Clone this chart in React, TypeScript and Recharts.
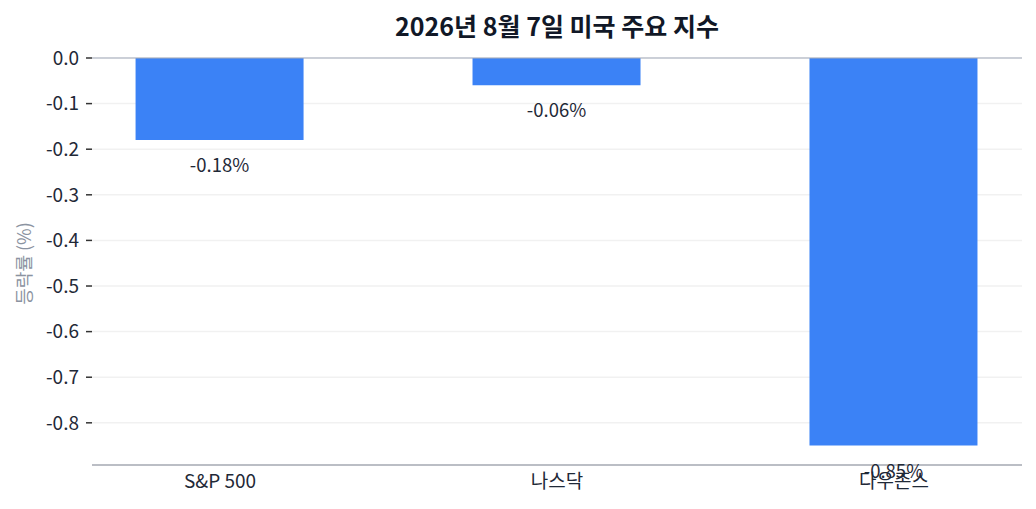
import React from 'react';
import { BarChart, Bar, XAxis, YAxis, CartesianGrid, ReferenceLine, LabelList } from 'recharts';

const indexNames = ['S&P 500', '나스닥', '다우존스'];
const changePct = [-0.18, -0.06, -0.85];
const yTicks = [0, -0.1, -0.2, -0.3, -0.4, -0.5, -0.6, -0.7, -0.8];

const FONT = '"Noto Sans CJK KR", "Noto Sans", sans-serif';

const data = indexNames.map((name, i) => ({ pos: i, name, value: changePct[i] }));

function ValueLabel(props: any) {
  const { x, y, width, height, value } = props;
  const bottom = Math.max(y, y + height);
  return (
    <text
      x={x + width / 2}
      y={bottom + 24}
      textAnchor="middle"
      dominantBaseline="central"
      fontSize={18.5}
      fill="#1f2937"
      fontFamily={FONT}
    >
      {`${value.toFixed(2)}%`}
    </text>
  );
}

function YLabel(props: any) {
  const { viewBox } = props;
  const cx = viewBox.x + 23;
  const cy = viewBox.y + viewBox.height / 2 + 2;
  return (
    <text
      x={cx}
      y={cy}
      transform={`rotate(-90, ${cx}, ${cy})`}
      textAnchor="middle"
      dominantBaseline="central"
      fontSize={18}
      fill="#8b93a1"
      fontFamily={FONT}
    >
      등락률 (%)
    </text>
  );
}

export default function App() {
  return (
    <div style={{ position: 'absolute', left: 0, top: 0, width: 1036, height: 509, background: '#fff', fontFamily: FONT }}>
      <div
        style={{
          position: 'absolute',
          left: 92,
          width: 930,
          top: 8,
          textAlign: 'center',
          fontSize: 25,
          fontWeight: 700,
          color: '#111827',
          lineHeight: '34px',
        }}
      >
        2026년 8월 7일 미국 주요 지수
      </div>
      <BarChart
        width={1036}
        height={509}
        data={data}
        margin={{ top: 58, right: 14, bottom: 0, left: 0 }}
      >
        <CartesianGrid vertical={false} stroke="#f1f1f1" strokeWidth={1.5} />
        <XAxis
          dataKey="pos"
          type="number"
          domain={[-0.38, 2.38]}
          ticks={[0, 1, 2]}
          tickFormatter={(v: number) => indexNames[v] ?? ''}
          allowDataOverflow
          height={44}
          tickLine={false}
          tickSize={0}
          tickMargin={10}
          axisLine={{ stroke: '#a9adb6', strokeWidth: 1.5 }}
          tick={{ fontSize: 19, fill: '#1f2937', fontFamily: FONT }}
        />
        <YAxis
          type="number"
          domain={[-0.8925, 0]}
          ticks={yTicks}
          allowDataOverflow
          width={92}
          axisLine={false}
          tickLine={{ stroke: '#333', strokeWidth: 1.5 }}
          tickSize={6}
          tickMargin={7}
          tickFormatter={(v: number) => v.toFixed(1)}
          tick={{ fontSize: 19, fill: '#1f2937', fontFamily: FONT }}
          label={<YLabel />}
        />
        <ReferenceLine y={0} stroke="#a3abbb" strokeWidth={1} />
        <Bar dataKey="value" fill="#3b82f6" barSize={168} isAnimationActive={false}>
          <LabelList dataKey="value" content={<ValueLabel />} />
        </Bar>
      </BarChart>
    </div>
  );
}
